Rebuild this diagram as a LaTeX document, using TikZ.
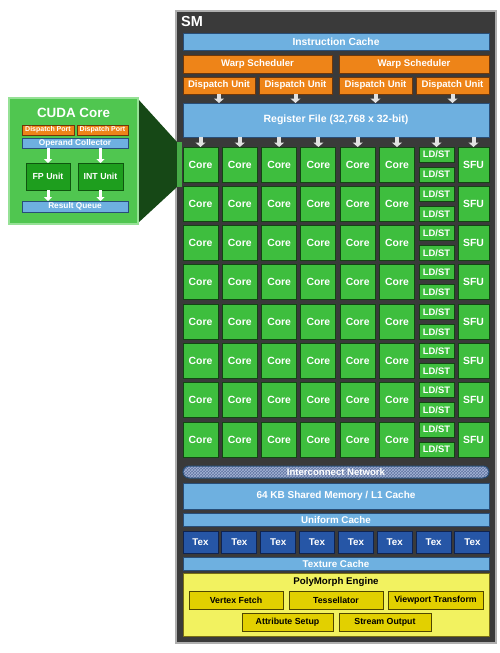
\documentclass[tikz,border=0pt]{standalone}
\usepackage{fontspec}
\setmainfont{Liberation Sans}
\usetikzlibrary{arrows.meta,patterns}

\definecolor{smbg}{RGB}{58,58,58}
\definecolor{smedge}{RGB}{175,175,175}
\definecolor{bluef}{RGB}{110,176,224}
\definecolor{bluee}{RGB}{40,78,120}
\definecolor{orf}{RGB}{238,132,24}
\definecolor{ore}{RGB}{110,55,10}
\definecolor{grf}{RGB}{62,190,62}
\definecolor{gre}{RGB}{18,70,18}
\definecolor{texf}{RGB}{38,86,166}
\definecolor{texe}{RGB}{15,35,80}
\definecolor{ylf}{RGB}{242,242,96}
\definecolor{yle}{RGB}{120,110,20}
\definecolor{ybf}{RGB}{226,208,0}
\definecolor{ybe}{RGB}{80,70,0}
\definecolor{ccf}{RGB}{80,198,80}
\definecolor{cce}{RGB}{150,225,150}
\definecolor{unitf}{RGB}{30,158,30}
\definecolor{unite}{RGB}{15,85,15}
\definecolor{projf}{RGB}{22,72,22}
\definecolor{projl}{RGB}{70,170,70}
\definecolor{arrowc}{RGB}{225,225,225}
\definecolor{icf}{RGB}{95,115,160}
\definecolor{icp}{RGB}{165,180,215}

\tikzset{
  box/.style={anchor=north west, inner sep=0pt, outer sep=0pt, line width=1pt,
    text=white, align=center},
  bluebox/.style={box, fill=bluef, draw=bluee},
  orbox/.style={box, fill=orf, draw=ore, font=\fontsize{9.6}{11}\selectfont\bfseries},
  corebox/.style={box, fill=grf, draw=gre, minimum width=35pt, minimum height=35pt,
    font=\fontsize{10.4}{12}\selectfont\bfseries},
  lsbox/.style={box, fill=grf, draw=gre, minimum width=35pt, minimum height=15pt,
    font=\fontsize{9.4}{11}\selectfont\bfseries},
  sfubox/.style={box, fill=grf, draw=gre, minimum width=31pt, minimum height=35pt,
    font=\fontsize{10.4}{12}\selectfont\bfseries},
  texbox/.style={box, fill=texf, draw=texe, minimum width=35pt, minimum height=22pt,
    font=\fontsize{9.8}{11}\selectfont\bfseries},
  ybtn/.style={box, fill=ybf, draw=ybe, text=black, minimum height=18pt,
    font=\fontsize{8.8}{10}\selectfont\bfseries},
  unitbox/.style={box, fill=unitf, draw=unite, minimum width=44pt, minimum height=27pt,
    font=\fontsize{8.8}{10}\selectfont\bfseries},
  blockarrow/.style={draw=arrowc, line width=4pt, -{Triangle[width=10pt,length=4.5pt]}},
  smallarrow/.style={draw=white, line width=3pt, -{Triangle[width=8pt,length=4pt]}},
}

\begin{document}
\begin{tikzpicture}[x=1pt,y=-1pt]
\useasboundingbox (0,0) rectangle (500,653);
\fill[white] (0,0) rectangle (500,653);

% SM outer frame
\node[box, fill=smbg, draw=smedge, line width=2.5pt, minimum width=320pt, minimum height=632pt] (sm) at (176,11) {};
\node[anchor=west, inner sep=0pt, text=white, font=\fontsize{14.5}{16}\selectfont\bfseries] (smlabel) at (181,22) {SM};

% Instruction cache
\node[bluebox, minimum width=306pt, minimum height=17pt, font=\fontsize{10.3}{12}\selectfont\bfseries] (ic) at (183,33) {Instruction Cache};

% Warp schedulers
\node[orbox, minimum width=149pt, minimum height=18pt] (ws1) at (183,55) {Warp Scheduler};
\node[orbox, minimum width=150pt, minimum height=18pt] (ws2) at (339,55) {Warp Scheduler};

% Dispatch units
\node[orbox, minimum width=72pt, minimum height=17pt] (du1) at (183,77) {Dispatch Unit};
\node[orbox, minimum width=73pt, minimum height=17pt] (du2) at (259,77) {Dispatch Unit};
\node[orbox, minimum width=73pt, minimum height=17pt] (du3) at (339,77) {Dispatch Unit};
\node[orbox, minimum width=73pt, minimum height=17pt] (du4) at (416,77) {Dispatch Unit};

% Register file
\node[bluebox, minimum width=306pt, minimum height=34pt, font=\fontsize{10.5}{12}\selectfont\bfseries] (rf) at (183,103) {Register File (32,768 x 32-bit)};

\foreach \d in {1,2,3,4} {
  \draw[blockarrow] (du\d.south) -- (du\d.south |- rf.north);
}

% Core grid
\foreach \r in {1,...,8} {
  \pgfmathsetmacro\yy{147+(\r-1)*39.3}
  \foreach \c in {1,...,6} {
    \pgfmathsetmacro\xx{183+(\c-1)*39.3}
    \node[corebox] (core-\r-\c) at (\xx,\yy) {Core};
  }
  \pgfmathsetmacro\yb{\yy+20}
  \node[lsbox] (lsa-\r) at (419,\yy) {LD/ST};
  \node[lsbox] (lsb-\r) at (419,\yb) {LD/ST};
  \node[sfubox] (sfu-\r) at (458,\yy) {SFU};
}

\foreach \c in {1,...,6} {
  \draw[blockarrow] (rf.south -| core-1-\c.north) -- (core-1-\c.north);
}
\draw[blockarrow] (rf.south -| lsa-1.north) -- (lsa-1.north);
\draw[blockarrow] (rf.south -| sfu-1.north) -- (sfu-1.north);

% Interconnect network
\node[box, rounded corners=6pt, preaction={fill=icf}, pattern=crosshatch, pattern color=icp,
  draw=bluee, minimum width=306pt, minimum height=12pt,
  font=\fontsize{9.6}{11}\selectfont\bfseries] (icn) at (183,466) {Interconnect Network};

% Shared memory
\node[bluebox, minimum width=306pt, minimum height=26pt, font=\fontsize{10}{12}\selectfont\bfseries] (shm) at (183,483) {64 KB Shared Memory / L1 Cache};

% Uniform cache
\node[bluebox, minimum width=306pt, minimum height=13pt, font=\fontsize{9.8}{11}\selectfont\bfseries] (uc) at (183,513) {Uniform Cache};

% Tex units
\foreach \i in {1,...,8} {
  \pgfmathsetmacro\xx{183+(\i-1)*38.85}
  \node[texbox] (tex-\i) at (\xx,531) {Tex};
}

% Texture cache
\node[bluebox, minimum width=306pt, minimum height=13pt, font=\fontsize{9.8}{11}\selectfont\bfseries] (tc) at (183,557) {Texture Cache};

% PolyMorph engine
\node[box, fill=ylf, draw=yle, minimum width=306pt, minimum height=63pt] (pm) at (183,573) {};
\node[inner sep=0pt, text=black, font=\fontsize{9.7}{11}\selectfont\bfseries] (pmt) at (336,582) {PolyMorph Engine};
\node[ybtn, minimum width=94pt] (vf) at (189,591) {Vertex Fetch};
\node[ybtn, minimum width=94pt] (ts) at (289,591) {Tessellator};
\node[ybtn, minimum width=95pt] (vt) at (388,591) {Viewport Transform};
\node[ybtn, minimum width=91pt] (as) at (242,613) {Attribute Setup};
\node[ybtn, minimum width=92pt] (so) at (339,613) {Stream Output};

% Projection from CUDA core
\fill[projf] (138,99) -- (177,142) -- (177,187) -- (138,223) -- cycle;
\fill[projl] (177,142) rectangle (182,187);

% CUDA Core detail
\node[box, fill=ccf, draw=cce, line width=1.5pt, minimum width=129pt, minimum height=126pt] (cc) at (9,98) {};
\node[inner sep=0pt, text=white, font=\fontsize{13.4}{15}\selectfont\bfseries] (cct) at (73.5,113) {CUDA Core};
\node[box, fill=orf, draw=ore, line width=0.6pt, minimum width=52pt, minimum height=10pt,
  font=\fontsize{7}{8}\selectfont\bfseries] (dp1) at (22,125) {Dispatch Port};
\node[box, fill=orf, draw=ore, line width=0.6pt, minimum width=51pt, minimum height=10pt,
  font=\fontsize{7}{8}\selectfont\bfseries] (dp2) at (77,125) {Dispatch Port};
\node[bluebox, line width=0.6pt, minimum width=106pt, minimum height=10pt,
  font=\fontsize{8.3}{9}\selectfont\bfseries] (oc) at (22,138) {Operand Collector};
\node[unitbox] (fp) at (26,163) {FP Unit};
\node[unitbox, minimum width=45pt] (int) at (78,163) {INT Unit};
\node[bluebox, line width=0.6pt, minimum width=106pt, minimum height=11pt,
  font=\fontsize{8.3}{9}\selectfont\bfseries] (rq) at (22,201) {Result Queue};
\draw[smallarrow] (oc.south -| fp.north) -- (fp.north);
\draw[smallarrow] (oc.south -| int.north) -- (int.north);
\draw[smallarrow] (fp.south) -- (fp.south |- rq.north);
\draw[smallarrow] (int.south) -- (int.south |- rq.north);
\end{tikzpicture}
\end{document}
